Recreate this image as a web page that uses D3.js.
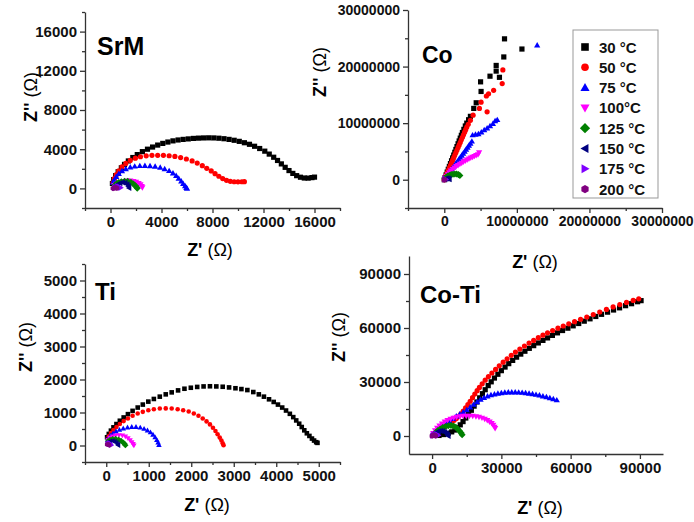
<!DOCTYPE html>
<html lang="en">
<head>
<meta charset="UTF-8" />
<title>Nyquist plots</title>
<script src="https://cdn.jsdelivr.net/npm/d3@7"></script>
<style>
  body { margin: 0; background: #fff; }
  text { font-family: Arial, "Liberation Sans", sans-serif; }
</style>
</head>
<body>
<svg id="svg"></svg>
<script>
  const width = 694;
  const height = 522;

  const legendLabels = ["30 °C", "50 °C", "75 °C", "100°C", "125 °C", "150 °C", "175 °C", "200 °C"];
  const colors = ["#000000", "#ff0000", "#0000ff", "#ff00ff", "#008000", "#000080", "#8000ff", "#800080"];
  const shapes = ["square", "circle", "up", "down", "diamond", "left", "right", "hexagon"];

  // ---- SrM (ohm) ----
  const srm30 = [[150,500],[250,900],[400,1300],[600,1700],[850,2100],[1100,2450],[1400,2800],[1750,3150],[2100,3450],[2500,3750],[2900,4000],[3300,4220],[3700,4420],[4100,4590],[4500,4730],[4900,4850],[5300,4940],[5700,5000],[6100,5050],[6500,5100],[6900,5130],[7300,5150],[7700,5160],[8100,5150],[8500,5120],[8900,5070],[9300,5000],[9700,4910],[10100,4800],[10500,4660],[10900,4500],[11300,4300],[11700,4070],[12100,3800],[12450,3500],[12800,3180],[13100,2850],[13400,2500],[13700,2150],[14000,1820],[14300,1530],[14600,1300],[14900,1140],[15200,1060],[15500,1050],[15800,1100],[16000,1150]];
  const srm50 = [[200,600],[300,1000],[450,1400],[650,1800],[900,2200],[1200,2550],[1550,2850],[1950,3080],[2350,3230],[2800,3320],[3250,3370],[3700,3380],[4150,3370],[4600,3330],[5050,3260],[5500,3150],[5950,3000],[6400,2800],[6800,2580],[7200,2320],[7550,2050],[7900,1780],[8200,1500],[8500,1240],[8800,1000],[9100,820],[9400,720],[9700,680],[10000,670],[10300,680],[10500,690]];
  const srm75 = [[200,600],[300,900],[450,1200],[650,1500],[900,1780],[1200,2000],[1550,2160],[1900,2260],[2300,2310],[2700,2320],[3100,2300],[3500,2240],[3900,2140],[4250,2000],[4600,1800],[4900,1560],[5150,1300],[5350,1020],[5550,740],[5700,480],[5850,250],[5950,80],[6000,0]];
  const srm100 = [[300,300],[450,450],[600,560],[800,650],[1050,730],[1300,770],[1550,770],[1800,720],[2000,640],[2200,520],[2350,380],[2450,220],[2500,80]];
  const srm125 = [[350,350],[500,500],[650,600],[850,680],[1100,740],[1350,730],[1600,620],[1800,450],[1950,280],[2050,120],[2100,20]];
  const srm150 = [[400,250],[550,400],[750,540],[950,610],[1150,570],[1300,400],[1400,220],[1450,50]];
  const srm175 = [[300,50],[400,150],[550,220],[700,180],[800,60]];
  const srm200 = [[200,0],[300,60],[400,80],[500,30]];

  // ---- Co (values in 10^6 ohm) ----
  const co30 = [[0,0],[0.1,0.35],[0.25,0.85],[0.4,1.35],[0.55,1.85],[0.7,2.35],[0.85,2.85],[1.0,3.35],[1.15,3.85],[1.3,4.35],[1.45,4.85],[1.6,5.35],[1.75,5.85],[1.9,6.35],[2.05,6.85],[2.2,7.35],[2.35,7.85],[2.5,8.35],[2.7,8.9],[2.9,9.5],[3.1,10.0],[3.35,10.6],[3.6,11.2],[4.06,12.6],[4.4,13.6],[5.07,15.6],[5.0,17.3],[6.3,18.3],[7.6,18.1],[7.15,19.2],[7.15,20.2],[8.2,21.7],[10.7,23.1],[8.3,24.9]];
  const co50 = [[0,0],[0.1,0.3],[0.25,0.75],[0.4,1.2],[0.55,1.65],[0.7,2.1],[0.85,2.55],[1.0,3.0],[1.15,3.45],[1.3,3.9],[1.45,4.35],[1.6,4.8],[1.75,5.25],[1.9,5.7],[2.05,6.15],[2.2,6.6],[2.35,7.05],[2.5,7.5],[2.65,7.95],[2.8,8.4],[2.95,8.85],[3.1,9.3],[3.3,9.8],[3.6,10.5],[3.97,11.4],[4.84,12.6],[5.9,12.0],[5.07,13.7],[5.8,14.8],[6.1,15.2],[6.8,15.8],[7.98,17.0],[8.07,19.4]];
  const co75 = [[0.15,0.25],[0.3,0.55],[0.45,0.85],[0.6,1.15],[0.8,1.5],[1.0,1.85],[1.2,2.2],[1.4,2.55],[1.6,2.9],[1.8,3.25],[2.0,3.6],[2.2,3.95],[2.4,4.3],[2.6,4.65],[2.8,5.0],[3.0,5.35],[3.2,5.7],[3.4,6.05],[3.6,6.4],[3.8,6.8],[3.9,7.9],[4.3,8.0],[4.7,8.1],[5.1,8.4],[5.5,8.8],[5.9,9.1],[6.3,9.5],[6.7,9.9],[7.0,10.4],[7.3,10.6],[12.8,23.8]];
  const co100 = [[0.15,0.3],[0.3,0.6],[0.5,0.95],[0.7,1.25],[0.9,1.55],[1.15,1.85],[1.4,2.1],[1.65,2.35],[1.9,2.55],[2.15,2.75],[2.4,2.95],[2.65,3.15],[2.9,3.35],[3.15,3.5],[3.4,3.7],[3.65,3.85],[3.9,4.0],[4.15,4.15],[4.4,4.3],[4.65,4.45],[4.8,4.8]];
  const co125 = [[0.1,0.2],[0.25,0.45],[0.45,0.65],[0.7,0.8],[0.95,0.9],[1.2,0.95],[1.45,1.0],[1.7,1.0],[1.95,0.9],[2.15,0.75]];
  const co150 = [[0.1,0.1],[0.25,0.2],[0.4,0.25],[0.55,0.2],[0.7,0.1]];
  const co175 = [[0.05,0.05],[0.15,0.1],[0.25,0.05]];
  const co200 = [[0,0],[0.05,0.02]];

  // ---- Ti (ohm) ----
  const ti30 = [[20,250],[60,350],[110,450],[170,550],[240,650],[320,750],[410,850],[510,950],[620,1050],[740,1150],[860,1240],[990,1330],[1120,1410],[1260,1480],[1400,1550],[1540,1610],[1690,1670],[1840,1720],[1990,1750],[2140,1775],[2290,1790],[2440,1795],[2590,1790],[2740,1780],[2890,1760],[3040,1735],[3180,1710],[3320,1680],[3460,1620],[3590,1550],[3710,1480],[3830,1400],[3940,1320],[4040,1240],[4140,1150],[4230,1060],[4320,960],[4400,860],[4470,760],[4540,660],[4600,560],[4660,460],[4720,370],[4780,290],[4840,210],[4890,150],[4940,100],[4970,80]];
  const ti50 = [[60,280],[110,380],[170,470],[240,560],[320,650],[410,740],[510,820],[620,900],[740,970],[860,1020],[990,1070],[1120,1100],[1260,1120],[1400,1125],[1540,1120],[1680,1100],[1810,1070],[1940,1030],[2060,970],[2170,900],[2270,820],[2360,730],[2440,640],[2510,540],[2570,440],[2620,340],[2670,240],[2710,150],[2740,70],[2760,10]];
  const ti75 = [[50,220],[100,300],[160,370],[230,430],[310,480],[400,520],[500,550],[600,565],[700,565],[800,545],[890,510],[970,460],[1040,400],[1100,330],[1150,250],[1190,170],[1220,90],[1240,20]];
  const ti100 = [[40,170],[90,230],[150,270],[220,300],[300,310],[380,300],[450,270],[510,220],[560,160],[600,100],[630,40],[650,0]];
  const ti125 = [[40,130],[90,170],[150,195],[220,200],[290,180],[350,140],[400,90],[430,50],[450,10]];
  const ti150 = [[40,100],[90,130],[150,140],[200,120],[240,80],[270,40],[280,10]];
  const ti175 = [[30,60],[60,80],[90,70],[110,40],[120,10]];
  const ti200 = [[20,30],[40,40],[60,30],[70,10]];

  // ---- Co-Ti (ohm) ----
  const coti30 = [[3000,300],[5000,800],[7000,1500],[8500,2300],[9900,3300],[11000,4600],[12200,6200],[13400,8000],[14600,10000],[15800,12100],[17000,14300],[18200,16600],[19400,18900],[20600,21200],[21800,23500],[23000,25700],[24300,28000],[25600,30100],[27000,32200],[28500,34300],[30000,36300],[31600,38300],[33200,40200],[34900,42000],[36600,43800],[38400,45500],[40200,47100],[42100,48700],[44000,50200],[46000,51700],[48000,53100],[50000,54500],[52100,55900],[54300,57300],[56500,58600],[58800,59900],[61100,61200],[63500,62500],[65900,63800],[68400,65100],[70900,66400],[73400,67600],[76000,68800],[78600,70000],[81200,71200],[83800,72400],[86400,73500],[89000,74600],[90500,75200]];
  const coti50 = [[500,400],[1500,1300],[2500,2300],[3500,3300],[4500,4200],[5500,5100],[6500,6000],[7500,6900],[8500,7800],[9500,8700],[10500,9700],[11500,10900],[12500,12300],[13500,13900],[14500,15600],[15500,17400],[16500,19300],[17500,21300],[18500,23300],[19500,25200],[20500,27000],[21700,29000],[23000,31000],[24400,33000],[25900,35000],[27500,37000],[29100,39000],[30800,41000],[32500,42900],[34300,44800],[36100,46600],[38000,48300],[40000,50000],[42000,51600],[44000,53100],[46000,54600],[48000,56000],[50000,57300],[52200,58600],[54500,59900],[56800,61100],[59200,62300],[61700,63500],[64300,64800],[67000,66100],[69800,67500],[72600,68900],[75500,70300],[78400,71700],[81300,73000],[84200,74200],[87100,75300],[89500,76200]];
  const coti75 = [[1000,1500],[2000,3000],[3200,4300],[4500,5600],[6000,7000],[7500,8400],[9000,9700],[10500,11000],[12000,12200],[13500,13300],[15000,14500],[16500,16000],[18000,17500],[19500,19000],[21000,20300],[22500,21300],[24000,22100],[25500,22800],[27000,23300],[28500,23700],[30000,24000],[31500,24200],[33000,24350],[34500,24400],[36000,24400],[37500,24300],[39000,24150],[40500,23950],[42000,23700],[43500,23400],[45000,23050],[46500,22650],[48000,22200],[49500,21700],[51000,21200],[52500,20600],[54000,20000]];
  const coti100 = [[500,1500],[1300,3000],[2200,4400],[3200,5700],[4300,6800],[5500,7800],[6700,8700],[8000,9400],[9300,10000],[10600,10500],[12000,10800],[13400,11000],[14800,11100],[16200,11100],[17600,11000],[19000,10800],[20300,10500],[21600,10000],[22800,9400],[23900,8700],[24900,7900],[25800,7000],[26500,6000],[27000,5000],[27300,4200]];
  const coti125 = [[800,800],[1600,2000],[2500,3000],[3500,3900],[4600,4700],[5800,5300],[7000,5700],[8200,5800],[9300,5500],[10300,4800],[11200,3800],[12000,2700],[12600,1600],[13000,700]];
  const coti150 = [[500,500],[1200,1400],[2000,2100],[2900,2600],[3800,2800],[4700,2700],[5500,2200],[6200,1400],[6700,600],[7000,0]];
  const coti175 = [[200,200],[700,700],[1300,1000],[1900,1000],[2400,700],[2700,300]];
  const coti200 = [[0,0],[400,300],[800,500],[1200,400],[1500,100]];

  // ---- ticks ----
  const srmTicks = [0, 4000, 8000, 12000, 16000];
  const srmMinor = [-2000, 2000, 6000, 10000, 14000, 18000];
  const coTicks = [0, 10000000, 20000000, 30000000];
  const coMinor = [-5000000, 5000000, 15000000, 25000000];
  const tiTicks = [0, 1000, 2000, 3000, 4000, 5000];
  const tiMinor = [-500, 500, 1500, 2500, 3500, 4500, 5500];
  const cotiTicks = [0, 30000, 60000, 90000];
  const cotiMinor = [15000, 45000, 75000];

  const panels = [
    { title: "SrM", series: [srm30, srm50, srm75, srm100, srm125, srm150, srm175, srm200], unit: 1,
      xDomain: [-2000, 18000], yDomain: [-2000, 18000], xRange: [85, 340], yRange: [208, 12],
      ticks: srmTicks, minor: srmMinor, r: 2.6, tickFont: 15, titleAt: [97, 55], titleSize: 25,
      yLabelAt: [37, 97], xLabelAt: [210, 256] },
    { title: "Co", series: [co30, co50, co75, co100, co125, co150, co175, co200], unit: 1e6,
      xDomain: [-5e6, 30e6], yDomain: [-5e6, 30e6], xRange: [408, 662], yRange: [208, 10],
      ticks: coTicks, minor: coMinor, r: 2.6, tickFont: 14, titleAt: [422, 63], titleSize: 23,
      yLabelAt: [326, 72], xLabelAt: [535, 268] },
    { title: "Ti", series: [ti30, ti50, ti75, ti100, ti125, ti150, ti175, ti200], unit: 1,
      xDomain: [-500, 5500], yDomain: [-500, 5500], xRange: [85, 340], yRange: [462, 264],
      ticks: tiTicks, minor: tiMinor, r: 2.3, tickFont: 15, titleAt: [95, 300], titleSize: 24,
      yLabelAt: [32, 347], xLabelAt: [207, 511] },
    { title: "Co-Ti", series: [coti30, coti50, coti75, coti100, coti125, coti150, coti175, coti200], unit: 1,
      xDomain: [-10000, 100000], yDomain: [-10000, 100000], xRange: [409, 663], yRange: [454, 256],
      ticks: cotiTicks, minor: cotiMinor, r: 2.6, tickFont: 15, titleAt: [420, 303], titleSize: 24,
      yLabelAt: [345, 337], xLabelAt: [540, 514] }
  ];

  function shapePath(shape, r) {
    switch (shape) {
      case "square": return `M${-r},${-r}h${2 * r}v${2 * r}h${-2 * r}Z`;
      case "circle": return `M${r},0A${r},${r} 0 1,1 ${-r},0A${r},${r} 0 1,1 ${r},0Z`;
      case "up": return `M0,${-r * 1.2}L${r * 1.2},${r * 0.9}L${-r * 1.2},${r * 0.9}Z`;
      case "down": return `M0,${r * 1.2}L${r * 1.2},${-r * 0.9}L${-r * 1.2},${-r * 0.9}Z`;
      case "diamond": { const d = r * 1.35; return `M0,${-d}L${d},0L0,${d}L${-d},0Z`; }
      case "left": return `M${-r * 1.2},0L${r * 0.9},${-r * 1.2}L${r * 0.9},${r * 1.2}Z`;
      case "right": return `M${r * 1.2},0L${-r * 0.9},${-r * 1.2}L${-r * 0.9},${r * 1.2}Z`;
      default: {
        const pts = d3.range(6).map(k => {
          const a = Math.PI / 6 + k * Math.PI / 3;
          return [r * 1.1 * Math.cos(a), r * 1.1 * Math.sin(a)];
        });
        return "M" + pts.join("L") + "Z";
      }
    }
  }

  const svg = d3.select("#svg").attr("width", width).attr("height", height);

  function styleAxis(sel, fontSize) {
    sel.selectAll("path, line").attr("stroke", "#333").attr("stroke-width", 1.3);
    sel.selectAll("text").attr("font-size", fontSize || 15).attr("font-weight", "bold").attr("fill", "#111");
  }

  panels.forEach(p => {
    const x = d3.scaleLinear().domain(p.xDomain).range(p.xRange);
    const y = d3.scaleLinear().domain(p.yDomain).range(p.yRange);
    const g = svg.append("g");

    // minor ticks
    g.append("g").attr("transform", `translate(0,${p.yRange[0]})`)
      .call(d3.axisBottom(x).tickValues(p.minor).tickSize(3).tickFormat(""))
      .call(a => a.select(".domain").remove())
      .call(styleAxis);
    g.append("g").attr("transform", `translate(${p.xRange[0]},0)`)
      .call(d3.axisLeft(y).tickValues(p.minor).tickSize(3).tickFormat(""))
      .call(a => a.select(".domain").remove())
      .call(styleAxis);

    // major axes
    g.append("g").attr("transform", `translate(0,${p.yRange[0]})`)
      .call(d3.axisBottom(x).tickValues(p.ticks).tickSize(5).tickSizeOuter(0).tickPadding(3).tickFormat(d3.format("d")))
      .call(styleAxis, p.tickFont);
    g.append("g").attr("transform", `translate(${p.xRange[0]},0)`)
      .call(d3.axisLeft(y).tickValues(p.ticks).tickSize(5).tickSizeOuter(0).tickPadding(3).tickFormat(d3.format("d")))
      .call(styleAxis, p.tickFont);

    // data
    p.series.forEach((s, i) => {
      g.append("g").selectAll("path").data(s).join("path")
        .attr("transform", d => `translate(${x(d[0] * p.unit)},${y(d[1] * p.unit)})`)
        .attr("d", shapePath(shapes[i], p.r))
        .attr("fill", colors[i]);
    });

    // title
    g.append("text").attr("x", p.titleAt[0]).attr("y", p.titleAt[1])
      .attr("font-size", p.titleSize).attr("font-weight", "bold").attr("fill", "#000").text(p.title);

    // axis labels
    const yl = g.append("text")
      .attr("transform", `translate(${p.yLabelAt[0]},${p.yLabelAt[1]}) rotate(-90)`)
      .attr("text-anchor", "middle").attr("font-size", 18).attr("fill", "#000");
    yl.append("tspan").attr("font-weight", "bold").text("Z'' ");
    yl.append("tspan").text("(Ω)");

    const xl = g.append("text").attr("x", p.xLabelAt[0]).attr("y", p.xLabelAt[1])
      .attr("text-anchor", "middle").attr("font-size", 18).attr("fill", "#000");
    xl.append("tspan").attr("font-weight", "bold").text("Z' ");
    xl.append("tspan").text("(Ω)");
  });

  // legend in Co panel
  const legend = svg.append("g");
  legend.append("rect").attr("x", 573).attr("y", 30).attr("width", 85).attr("height", 168)
    .attr("fill", "#fff").attr("stroke", "#999").attr("stroke-width", 1);
  legendLabels.forEach((lab, i) => {
    const cy = 47 + i * 20.3;
    legend.append("path").attr("transform", `translate(585,${cy})`)
      .attr("d", shapePath(shapes[i], 3.8)).attr("fill", colors[i]);
    legend.append("text").attr("x", 599).attr("y", cy + 5.5)
      .attr("font-size", 15).attr("font-weight", "bold").attr("fill", "#111").text(lab);
  });
</script>
</body>
</html>
